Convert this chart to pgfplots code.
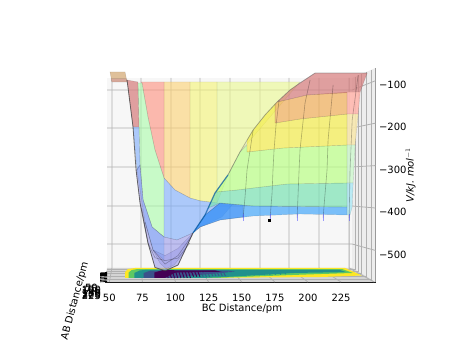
\documentclass[border=0pt]{standalone}
\usepackage{fontspec}
\setmainfont{DejaVu Sans}
\usepackage{pgfplots}
\pgfplotsset{compat=1.18}
\definecolor{wallback}{HTML}{F7F7F7}
\definecolor{wallright}{HTML}{EDEDED}
\definecolor{floorc}{HTML}{D4D4D4}
\definecolor{gridc}{HTML}{B0B0B0}
\definecolor{tan}{HTML}{DFC09A}
\definecolor{pinktan}{HTML}{D6A89A}
\definecolor{bred}{HTML}{FF8F7C}
\definecolor{borange}{HTML}{FDD170}
\definecolor{byellow}{HTML}{F4F473}
\definecolor{bpale}{HTML}{EBF98E}
\definecolor{bgreen}{HTML}{A9FCA9}
\definecolor{bblue}{HTML}{7AABFC}
\definecolor{blav}{HTML}{9090EA}
\definecolor{bdeep}{HTML}{7373DE}
\definecolor{fblue}{HTML}{45A8FB}
\definecolor{fdblue}{HTML}{256DF3}
\definecolor{fteal}{HTML}{7BE2B4}
\definecolor{fgreen}{HTML}{BAFF86}
\definecolor{fyellow}{HTML}{F4ED4D}
\definecolor{forange}{HTML}{F1AE58}
\definecolor{fred}{HTML}{D57B7B}
\definecolor{sred}{HTML}{FFB8B0}
\definecolor{syellow}{HTML}{F8E8B0}
\definecolor{sgreen}{HTML}{D0F8D0}
\definecolor{scyan}{HTML}{B0E8F4}
\definecolor{vy}{HTML}{FDE725}
\definecolor{vg}{HTML}{5EC962}
\definecolor{vt}{HTML}{21918C}
\definecolor{vb}{HTML}{3B528B}
\definecolor{vp}{HTML}{440154}
\newcommand{\poly}[3]{\addplot[fill=#1,draw=black,draw opacity=0.15,line width=0.4pt,fill opacity=#2] coordinates {#3} --cycle;}
\newcommand{\wire}[2]{\addplot[color=#1,line width=0.6pt,opacity=0.28] coordinates {#2};}
\begin{document}
\begin{tikzpicture}[x=1pt,y=1pt]
\useasboundingbox (0,0) rectangle (456,360);
\begin{axis}[
  at={(105pt,78pt)},anchor=south west,
  scale only axis,width=270.5pt,height=214pt,
  xmin=46.75,xmax=251,ymin=-574.3,ymax=-70.1,
  clip=false,
  axis x line*=bottom,axis y line*=right,
  axis line style={-,black,line width=0.8pt},
  major tick length=0pt,
  xtick={50,75,100,125,150,175,200,225},
  ytick={-500,-400,-300,-200,-100},
  yticklabels={−500,−400,−300,−200,−100},
  /pgf/number format/assume math mode=true,
  tick label style={font=\fontsize{10}{12}\selectfont},
  xticklabel style={yshift=-9pt},
  yticklabel style={yshift=-4pt,xshift=0pt},
  unbounded coords=jump,
  xlabel={BC Distance/pm},
  ylabel={\textit{V/kJ. mol}$^{-1}$},
  label style={font=\fontsize{10}{12}\selectfont},
  every axis x label/.style={at={(axis cs:150.2,-638)},anchor=center},
  every axis y label/.style={at={(axis cs:277.5,-322)},anchor=center,rotate=90},
]
% panes
\addplot[fill=wallback,draw=none] coordinates {(48.3,-93.6)(233.4,-93.6)(233.4,-541.3)(48.3,-541.3)} --cycle;
\addplot[fill=wallright,draw=none] coordinates {(233.4,-93.6)(251,-70.1)(251,-574.3)(233.4,-541.3)} --cycle;
\addplot[fill=floorc,draw=none] coordinates {(46.75,-574.3)(251,-574.3)(233.4,-541.3)(48.3,-541.3)} --cycle;
% grid: V levels
\addplot[gridc,line width=0.8pt] coordinates {(48.3,-121.9)(233.4,-121.9)(251,-100)};
\addplot[gridc,line width=0.8pt] coordinates {(48.3,-211.4)(233.4,-211.4)(251,-200)};
\addplot[gridc,line width=0.8pt] coordinates {(48.3,-303.3)(233.4,-303.3)(251,-300)};
\addplot[gridc,line width=0.8pt] coordinates {(48.3,-395.2)(233.4,-395.2)(251,-400)};
\addplot[gridc,line width=0.8pt] coordinates {(48.3,-484.8)(233.4,-484.8)(251,-500)};
% grid: BC
\addplot[gridc,line width=0.8pt] coordinates {(52,-93.6)(52,-541.3)(50,-574.3)};
\addplot[gridc,line width=0.8pt] coordinates {(73.9,-93.6)(73.9,-541.3)(75,-574.3)};
\addplot[gridc,line width=0.8pt] coordinates {(96.6,-93.6)(96.6,-541.3)(100,-574.3)};
\addplot[gridc,line width=0.8pt] coordinates {(118.5,-93.6)(118.5,-541.3)(125,-574.3)};
\addplot[gridc,line width=0.8pt] coordinates {(141.2,-93.6)(141.2,-541.3)(150,-574.3)};
\addplot[gridc,line width=0.8pt] coordinates {(163.8,-93.6)(163.8,-541.3)(175,-574.3)};
\addplot[gridc,line width=0.8pt] coordinates {(185.7,-93.6)(185.7,-541.3)(200,-574.3)};
\addplot[gridc,line width=0.8pt] coordinates {(208.4,-93.6)(208.4,-541.3)(225,-574.3)};
\addplot[gridc,line width=0.8pt] coordinates {(231.1,-93.6)(231.1,-541.3)(250,-574.3)};
% grid: AB, on wall and floor
\addplot[gridc,line width=0.8pt] coordinates {(47.9,-545.5)(235.6,-545.5)(235.6,-90.6)};
\addplot[gridc,line width=0.8pt] coordinates {(47.7,-549.8)(237.9,-549.8)(237.9,-87.5)};
\addplot[gridc,line width=0.8pt] coordinates {(47.5,-554.9)(240.6,-554.9)(240.6,-84)};
\addplot[gridc,line width=0.8pt] coordinates {(47.2,-562)(244.4,-562)(244.4,-78.8)};
\addplot[gridc,line width=0.8pt] coordinates {(47,-568.9)(248.2,-568.9)(248.2,-73.8)};
% contour rings on the floor
\addplot[fill=vy,draw=none] coordinates {(61.9,-564.8)(61.9,-550.7)(64.1,-543.6)(69.4,-541.3)(228.1,-541.3)(240.6,-559)(210,-562.5)(120,-564.8)} --cycle;
\addplot[fill=vg,draw=none] coordinates {(64.5,-564.8)(64.5,-552)(67,-546)(71,-544)(226,-544)(234,-553)(195,-557)(130,-564.8)} --cycle;
\addplot[fill=vt,draw=none] coordinates {(69,-564.8)(69,-553)(73,-547)(77,-546)(224,-546)(229,-551)(190,-553)(140,-562)(120,-564.8)} --cycle;
\addplot[fill=vb,draw=none] coordinates {(76,-564.8)(76,-553)(81,-547.5)(140,-547.5)(145,-550)(110,-560)(100,-564.8)} --cycle;
\addplot[fill=vp,draw=none] coordinates {(84,-564.8)(84,-552)(90,-546.5)(130,-547)(135,-550)(100,-552)(92,-564.8)} --cycle;
\addplot[vp,line width=1pt] coordinates {(93,-550.7)(94.5,-564.8)(nan,nan)(95.4,-550.7)(96.9,-564.8)(nan,nan)(97.8,-550.7)(99.3,-564.8)(nan,nan)(100.2,-550.7)(101.7,-564.8)(nan,nan)(102.6,-550.7)(104.1,-564.8)(nan,nan)(105,-550.7)(106.5,-564.8)(nan,nan)(107.4,-550.7)(108.9,-564.8)(nan,nan)(109.8,-550.7)(111.3,-564.8)(nan,nan)(112.2,-550.7)(113.7,-562)(nan,nan)(114.6,-550.7)(116.1,-562)(nan,nan)(117,-550.7)(118.5,-562)};
\addplot[vb,line width=0.9pt] coordinates {(119.4,-550.7)(120.9,-562)(nan,nan)(121.8,-550.7)(123.3,-562)(nan,nan)(124.2,-550.7)(125.7,-562)(nan,nan)(126.6,-550.7)(128.1,-560)(nan,nan)(129,-550.7)(130.5,-560)(nan,nan)(131.4,-550.7)(132.9,-560)(nan,nan)(133.8,-550.7)(135.3,-560)(nan,nan)(136.2,-550.7)(137.7,-560)};
\addplot[vt,line width=0.9pt] coordinates {(140,-550)(141.5,-560)(nan,nan)(143,-550)(144.5,-560)(nan,nan)(146,-550)(147.5,-560)(nan,nan)(150,-550)(151.5,-559)(nan,nan)(154,-550)(155.5,-559)(nan,nan)(158,-550)(159.5,-559)(nan,nan)(162,-550)(163.5,-558)(nan,nan)(166,-550)(167.5,-558)(nan,nan)(170,-550)(171.5,-558)(nan,nan)(174,-550)(175.5,-557)(nan,nan)(178,-550)(179.5,-557)(nan,nan)(182,-550)(183.5,-556)};
% back sheet
\poly{bpale}{0.6}{(131.3,-103)(194,-103)(148.7,-268)(139.6,-322.2)(131.3,-388.1)}
\poly{byellow}{0.6}{(110.9,-103)(131.3,-103)(131.3,-388.1)(118.5,-383)(110.9,-376.4)}
\poly{borange}{0.6}{(91.3,-103)(110.9,-103)(110.9,-376.4)(99.6,-357.5)(91.3,-329.2)}
\poly{bred}{0.6}{(73.9,-103)(91.3,-103)(91.3,-329.2)(84.5,-263.3)(79.2,-185.5)(74.7,-105.4)}
\poly{bgreen}{0.6}{(71.6,-105.4)(74.7,-105.4)(79.2,-185.5)(84.5,-263.3)(91.3,-329.2)(91.3,-468.3)(82.3,-444.7)(75.5,-381)(73.2,-298.6)}
\poly{bblue}{0.6}{(91.3,-329.2)(99.6,-357.5)(110.9,-376.4)(118.5,-383)(131.3,-388.1)(142.7,-392.8)(135,-421)(118.5,-444.7)(113.2,-458.8)(101.1,-475.3)(91.3,-468.3)}
\poly{blav}{0.55}{(70.2,-310)(73.2,-388.1)(79.2,-482.4)(84.5,-540)(92.1,-548)(101.9,-534.3)(113.2,-458.8)(101.1,-475.3)(91.3,-468.3)(82.3,-444.7)(75.5,-381)(73.2,-298.6)}
\poly{bblue}{0.45}{(70.9,-310.4)(73.2,-298.6)(75.5,-381)(82.3,-444.7)(91.3,-468.3)(91.3,-522.5)(83,-498.9)(77,-432.9)}
\poly{bdeep}{0.25}{(83,-498.9)(88.3,-530)(92.9,-543)(98.9,-534)(106.4,-505.9)(113.2,-458.8)(101.9,-495)(92.1,-512)}
% left wall sliver and tan corner
\poly{tan}{1}{(50.5,-79.5)(61.9,-79.5)(63.4,-103)(52,-103)}
\poly{pinktan}{1}{(51.3,-95)(62.7,-95)(63.4,-103)(52,-103)}
\poly{fred}{0.7}{(63.4,-98.4)(71.6,-103)(72.4,-209)(67.9,-209)}
\poly{bblue}{0.6}{(67.9,-209)(72.4,-209)(73.2,-298.6)(70.9,-310.4)}
% front sheet
\poly{fblue}{0.7}{(113.2,-458.8)(118.5,-444.7)(133.6,-428.2)(158.6,-418.8)(194,-414)(229.6,-416.4)(229.6,-397.6)(158.6,-395.2)(133.6,-388.1)(122.3,-416.4)}
\poly{fdblue}{0.3}{(113.2,-458.8)(118.5,-444.7)(133.6,-428.2)(151,-421)(151,-393)(133.6,-388.1)(122.3,-416.4)}
\poly{fteal}{0.7}{(124.6,-400)(133.6,-388.1)(158.6,-395.2)(229.6,-397.6)(229.6,-341)(184.2,-343.4)(158.6,-352.8)(146.4,-357.5)(130.5,-362.2)}
\poly{fgreen}{0.7}{(130.5,-362.2)(146.4,-357.5)(158.6,-352.8)(184.2,-343.4)(229.6,-341)(229.6,-251.5)(181.2,-258.6)(167.6,-263.3)(154,-268)(154,-251.5)(148.7,-268)(139.6,-322.2)}
\poly{fyellow}{0.7}{(154,-268)(167.6,-263.3)(181.2,-258.6)(229.6,-251.5)(229.6,-178.5)(194,-190.2)(175.2,-199.7)(175.2,-155)(167.6,-180.8)(158.6,-216.2)(154,-239.7)}
\poly{forange}{0.7}{(175.2,-199.7)(194,-190.2)(229.6,-178.5)(229.6,-126.6)(199.3,-133.7)(176.7,-150.2)(175.2,-155)}
\poly{fred}{0.7}{(176.7,-150.2)(199.3,-133.7)(239.4,-126.6)(244.7,-81.9)(205.4,-81.9)(194,-105.4)(186.5,-121.9)}
% far edge of the sheet seen at the right
\poly{sred}{0.9}{(229.6,-126.6)(239.4,-126.6)(237.9,-178.5)(229.6,-178.5)}
\poly{syellow}{0.9}{(229.6,-178.5)(237.9,-178.5)(235.6,-251.5)(229.6,-251.5)}
\poly{sgreen}{0.85}{(229.6,-251.5)(235.6,-251.5)(234.1,-341)(229.6,-341)}
\poly{scyan}{0.85}{(229.6,-341)(234.1,-341)(233.4,-397.6)(231.8,-416.4)(229.6,-416.4)}
% wire lines
\wire{black}{(151,-423.5)(152.5,-374)(154,-310.4)(156.3,-263.3)(158.6,-216.2)}
\wire{black}{(171.4,-423.5)(172.9,-364.6)(173.6,-310.4)(174.4,-263.3)(175.9,-204.4)(178.2,-145.5)}
\wire{black}{(191.8,-423.5)(193.3,-310.4)(194,-263.3)(197.8,-152.5)(201.6,-98.4)}
\wire{black}{(211.4,-423.5)(214.4,-310.4)(215.2,-239.7)(219,-110)}
\wire{black}{(231.1,-423.5)(231.8,-310.4)(233.4,-192.6)(237.9,-86.6)}
\wire{black}{(74.5,-400)(79.2,-482.4)(84.5,-517)(92.1,-524)(101.9,-518)(110.9,-482)}
\wire{black}{(77,-432.9)(83,-498.9)(92.1,-532)(101.9,-512)(112.5,-464)}
\addplot[blue!70!white,line width=0.9pt,opacity=0.55] coordinates {(151,-414)(151,-430)(nan,nan)(171.4,-414)(171.4,-430)(nan,nan)(191.8,-414)(191.8,-430)(nan,nan)(211.4,-414)(211.4,-430)(nan,nan)(231.1,-414)(231.1,-430)};
% outline of the well
\addplot[color=black!75,line width=0.8pt,opacity=0.75] coordinates {(63.4,-98.4)(67.9,-209)(70.2,-310)(73.2,-388.1)(79.2,-482.4)(84.5,-540)(92.1,-548)(101.9,-534.3)(113.2,-458.8)};
\addplot[color=black!60,line width=0.8pt,opacity=0.45] coordinates {(139.6,-322.2)(148.7,-268)(158.6,-216.2)(167.6,-180.8)(176.7,-150.2)(186.5,-121.9)(194,-105.4)(205.4,-81.9)(244.7,-81.9)};
\addplot[color=teal!70!blue,line width=1.2pt,opacity=0.7] coordinates {(113.2,-458.8)(122.3,-416.4)(129.8,-364.6)(139.6,-322.2)};
% AB axis ticks and the point
\addplot[black,line width=0.8pt] coordinates {(43,-553)(48.3,-552)(nan,nan)(43,-555.4)(48.3,-554.4)(nan,nan)(43,-557.7)(48.3,-556.7)(nan,nan)(43,-560)(48.3,-559)(nan,nan)(43,-563.5)(48.3,-562.5)(nan,nan)(43,-567)(48.3,-566)(nan,nan)(43,-570.6)(48.3,-569.6)(nan,nan)(43,-574)(48.3,-573)};
\addplot[only marks,mark=square*,mark size=1.3pt,color=black,mark options={draw=none}] coordinates {(170.8,-428.9)};
% AB tick labels and label
\begin{scope}[every node/.style={font=\fontsize{10}{12}\selectfont,anchor=center,inner sep=0pt}]
\node at (axis cs:36.5,-588.4) {50};
\node at (axis cs:36.5,-590.8) {75};
\node at (axis cs:36.5,-593.1) {100};
\node at (axis cs:36.5,-595.5) {125};
\node at (axis cs:36.5,-599) {150};
\node at (axis cs:36.5,-602.6) {175};
\node at (axis cs:36.5,-605) {200};
\node at (axis cs:36.5,-607.3) {225};
\node[rotate=75] at (axis cs:24.1,-619.2) {AB Distance/pm};
\end{scope}
\end{axis}
\end{tikzpicture}
\end{document}
